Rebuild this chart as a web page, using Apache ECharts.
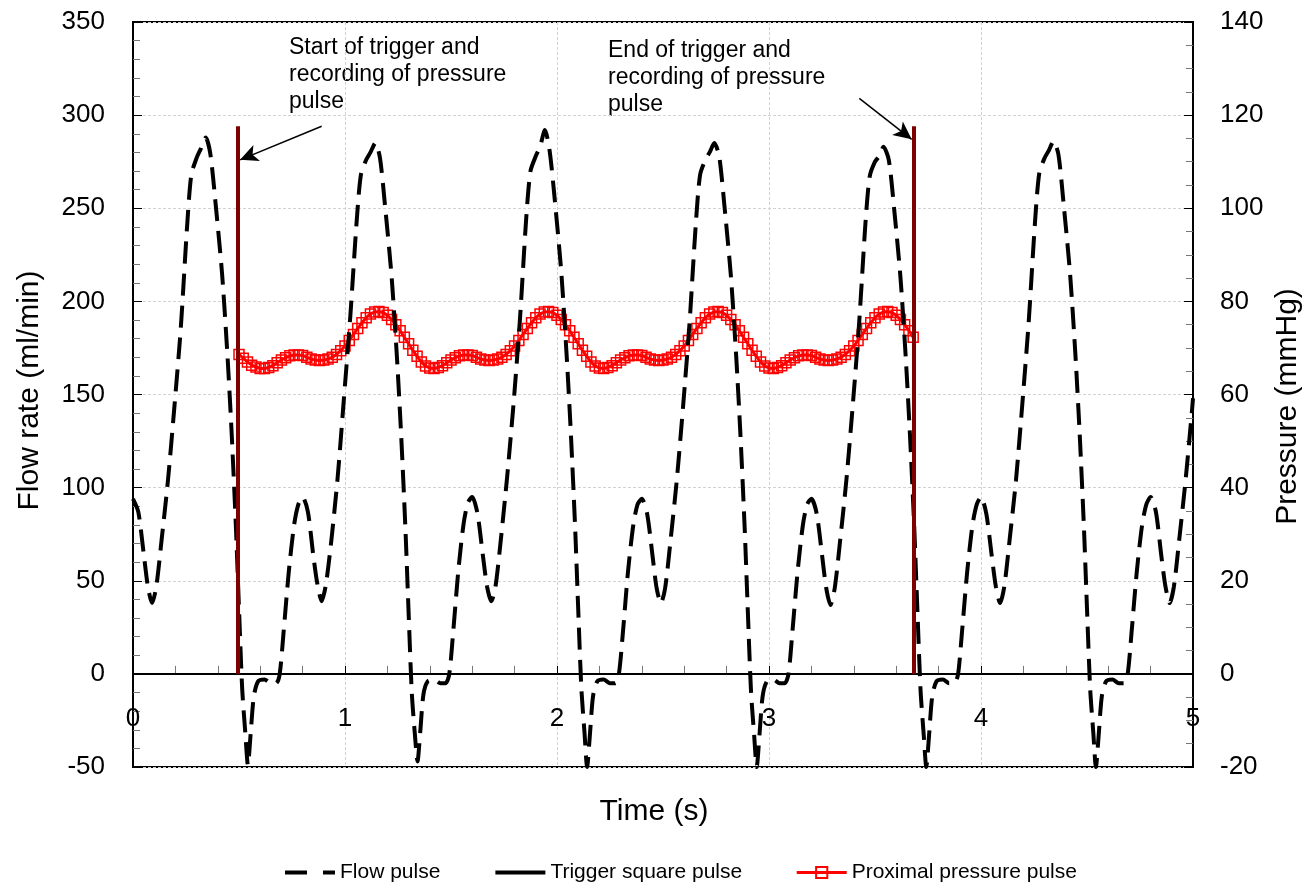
<!DOCTYPE html>
<html>
<head>
<meta charset="utf-8">
<script src="https://cdn.jsdelivr.net/npm/echarts@6.0.0/dist/echarts.min.js"></script>
<style>
  html, body { margin: 0; padding: 0; background: #fff; }
  #chart { width: 1308px; height: 886px; }
</style>
</head>
<body>
<div id="chart"></div>
<script>
// Flow pulse, ml/min: [time s, flow]
const flowPoints = [
  [0.000,94],[0.025,87],[0.050,65],[0.070,47],[0.090,38],[0.110,47],[0.135,72],[0.165,104],[0.195,143],[0.225,185],[0.255,240],[0.275,268],[0.300,277],[0.320,282],[0.343,288],[0.365,279],[0.390,252],[0.420,215],[0.445,172],[0.465,130],[0.485,80],[0.500,35],[0.515,-8],[0.530,-32],[0.542,-49],[0.555,-32],[0.570,-12],[0.590,-4],[0.620,-3],[0.650,-5],[0.675,-5],[0.692,0],[0.710,22],[0.735,55],[0.760,80],[0.780,91],
  [0.800,95],[0.825,87],[0.850,64],[0.870,48],[0.890,39],[0.910,48],[0.935,71],[0.965,105],[0.995,148],[1.025,192],[1.055,243],[1.075,268],[1.100,276],[1.120,280],[1.143,285],[1.165,277],[1.190,250],[1.220,213],[1.245,170],[1.265,128],[1.285,78],[1.300,33],[1.315,-10],[1.330,-33],[1.342,-47],[1.355,-31],[1.370,-11],[1.390,-4],[1.420,-3],[1.450,-5],[1.475,-5],[1.492,0],[1.510,22],[1.535,56],[1.560,81],[1.580,92],
  [1.600,95],[1.625,86],[1.650,64],[1.670,47],[1.690,39],[1.710,47],[1.735,72],[1.765,106],[1.795,145],[1.825,190],[1.855,245],[1.875,270],[1.900,278],[1.920,283],[1.943,292],[1.965,281],[1.990,254],[2.020,216],[2.045,172],[2.065,130],[2.085,80],[2.100,35],[2.115,-8],[2.130,-32],[2.142,-50],[2.155,-33],[2.170,-12],[2.190,-4],[2.220,-3],[2.250,-5],[2.275,-5],[2.292,0],[2.310,21],[2.335,55],[2.360,80],[2.380,91],
  [2.400,94],[2.425,86],[2.450,64],[2.470,46],[2.490,38],[2.510,46],[2.535,71],[2.565,104],[2.595,144],[2.625,188],[2.655,242],[2.675,268],[2.700,276],[2.720,280],[2.742,285],[2.765,278],[2.790,251],[2.820,214],[2.845,171],[2.865,129],[2.885,79],[2.900,34],[2.915,-9],[2.930,-33],[2.942,-50],[2.955,-33],[2.970,-12],[2.990,-4],[3.020,-3],[3.050,-5],[3.075,-5],[3.092,0],[3.110,22],[3.135,55],[3.160,80],[3.180,91],
  [3.200,94],[3.225,86],[3.250,64],[3.270,46],[3.290,37],[3.310,46],[3.335,71],[3.365,104],[3.395,144],[3.425,188],[3.455,242],[3.475,267],[3.500,275],[3.520,278],[3.540,283],[3.565,276],[3.590,250],[3.620,213],[3.645,170],[3.665,128],[3.685,79],[3.700,34],[3.715,-9],[3.730,-33],[3.742,-50],[3.755,-33],[3.770,-12],[3.790,-4],[3.820,-3],[3.850,-5],[3.875,-5],[3.892,0],[3.910,22],[3.935,55],[3.960,80],[3.980,91],
  [4.000,95],[4.025,86],[4.050,64],[4.070,47],[4.090,38],[4.110,47],[4.135,72],[4.165,104],[4.195,145],[4.225,189],[4.255,243],[4.275,269],[4.300,277],[4.320,281],[4.342,286],[4.365,279],[4.390,252],[4.420,215],[4.445,172],[4.465,130],[4.485,80],[4.500,35],[4.515,-8],[4.530,-32],[4.542,-50],[4.555,-33],[4.570,-12],[4.590,-4],[4.620,-3],[4.650,-5],[4.675,-5],[4.692,0],[4.710,22],[4.735,55],[4.760,80],[4.780,91],
  [4.800,95],[4.825,87],[4.850,64],[4.870,47],[4.890,38],[4.910,47],[4.935,72],[4.965,104],[4.995,141],[5.000,148]
];

// Proximal pressure pulse, mmHg (right axis): [time s, pressure]
const pressurePoints = [
  [0.50,68.6],[0.52,67.8],[0.54,67.0],[0.56,66.3],[0.58,65.9],[0.60,65.6],[0.62,65.6],[0.64,65.8],[0.66,66.2],[0.68,66.8],
  [0.70,67.4],[0.72,67.9],[0.74,68.3],[0.76,68.5],[0.78,68.5],[0.80,68.4],[0.82,68.0],[0.84,67.6],[0.86,67.4],[0.88,67.3],
  [0.90,67.4],[0.92,67.6],[0.94,68.0],[0.96,68.6],[0.98,69.4],[1.00,70.4],[1.02,71.6],[1.04,72.9],[1.06,74.2],[1.08,75.4],
  [1.10,76.5],[1.12,77.3],[1.14,77.7],[1.16,77.8],[1.18,77.6],[1.20,77.0],[1.22,76.1],[1.24,75.0],[1.26,73.7],[1.28,72.3],
  [1.30,70.9],[1.32,69.5],[1.34,68.2],[1.36,67.0],[1.38,66.1],[1.40,65.7],[1.42,65.6],[1.44,65.8],[1.46,66.2],[1.48,66.8],
  [1.50,67.4],[1.52,67.9],[1.54,68.3],[1.56,68.5],[1.58,68.5],[1.60,68.4],[1.62,68.0],[1.64,67.6],[1.66,67.4],[1.68,67.3],
  [1.70,67.4],[1.72,67.6],[1.74,68.0],[1.76,68.6],[1.78,69.4],[1.80,70.4],[1.82,71.6],[1.84,72.9],[1.86,74.2],[1.88,75.4],
  [1.90,76.5],[1.92,77.3],[1.94,77.7],[1.96,77.8],[1.98,77.6],[2.00,77.0],[2.02,76.1],[2.04,75.0],[2.06,73.7],[2.08,72.3],
  [2.10,70.9],[2.12,69.5],[2.14,68.2],[2.16,67.0],[2.18,66.1],[2.20,65.7],[2.22,65.6],[2.24,65.8],[2.26,66.2],[2.28,66.8],
  [2.30,67.4],[2.32,67.9],[2.34,68.3],[2.36,68.5],[2.38,68.5],[2.40,68.4],[2.42,68.0],[2.44,67.6],[2.46,67.4],[2.48,67.3],
  [2.50,67.4],[2.52,67.6],[2.54,68.0],[2.56,68.6],[2.58,69.4],[2.60,70.4],[2.62,71.6],[2.64,72.9],[2.66,74.2],[2.68,75.4],
  [2.70,76.5],[2.72,77.3],[2.74,77.7],[2.76,77.8],[2.78,77.6],[2.80,77.0],[2.82,76.1],[2.84,75.0],[2.86,73.7],[2.88,72.3],
  [2.90,70.9],[2.92,69.5],[2.94,68.2],[2.96,67.0],[2.98,66.1],[3.00,65.7],[3.02,65.6],[3.04,65.8],[3.06,66.2],[3.08,66.8],
  [3.10,67.4],[3.12,67.9],[3.14,68.3],[3.16,68.5],[3.18,68.5],[3.20,68.4],[3.22,68.0],[3.24,67.6],[3.26,67.4],[3.28,67.3],
  [3.30,67.4],[3.32,67.6],[3.34,68.0],[3.36,68.6],[3.38,69.4],[3.40,70.4],[3.42,71.6],[3.44,72.9],[3.46,74.2],[3.48,75.4],
  [3.50,76.5],[3.52,77.3],[3.54,77.7],[3.56,77.8],[3.58,77.6],[3.60,77.0],[3.62,76.1],[3.64,75.0],[3.66,73.7],[3.68,72.3]
];

// trigger square pulse sits on zero; its start/end edges are the dark red bars
const triggerPoints = [[0, 0], [5, 0]];
const triggerEdges = [0.495, 3.684];
const triggerTop = 294;

// annotation arrows [from, to] in data coordinates (time, flow)
const arrowStart = [[0.89, 294], [0.505, 276]];
const arrowEnd = [[3.426, 309], [3.673, 287]];

const seriesNames = ['Flow pulse', 'Trigger square pulse', 'Proximal pressure pulse'];
const flowTicks = { min: -50, max: 350, interval: 50 };
const pressureTicks = { min: -20, max: 140, interval: 20 };
const timeTicks = { min: 0, max: 5, interval: 1 };

const FONT = 'Liberation Sans, Arial, Helvetica, sans-serif';
const gridLine = { show: true, lineStyle: { color: '#d2d2d2', type: [3, 2], width: 1 } };

const chart = echarts.init(document.getElementById('chart'), null, { renderer: 'canvas' });

chart.setOption({
  animation: false,
  backgroundColor: '#fff',
  textStyle: { fontFamily: FONT, color: '#000' },
  grid: {
    left: 133, right: 115, top: 22, bottom: 119,
    show: true, borderColor: '#000', borderWidth: 2,
    containLabel: false, outerBoundsMode: 'none'
  },
  legend: {
    data: [
      { name: seriesNames[0], itemStyle: { opacity: 0 }, lineStyle: { color: '#000', width: 4, type: [22, 16] } },
      { name: seriesNames[1], itemStyle: { opacity: 0 }, lineStyle: { color: '#000', width: 4, type: 'solid' } },
      { name: seriesNames[2], lineStyle: { color: '#ff0000', width: 3 } }
    ],
    left: 278, top: 857,
    itemWidth: 50, itemHeight: 14, itemGap: 53,
    textStyle: { fontSize: 21, color: '#000', fontFamily: FONT }
  },
  xAxis: {
    type: 'value',
    min: timeTicks.min, max: timeTicks.max, interval: timeTicks.interval,
    name: 'Time (s)', nameLocation: 'middle', nameGap: 30, nameMoveOverlap: false,
    nameTextStyle: { fontSize: 30, color: '#000', fontFamily: FONT, padding: [0, 18, 0, 0] },
    axisLine: { show: true, onZero: true, lineStyle: { color: '#000', width: 1.5 } },
    axisTick: { show: true, inside: true, length: 8, lineStyle: { color: '#000', width: 1 } },
    minorTick: { show: true, splitNumber: 5, length: 8, lineStyle: { color: '#777', width: 1 } },
    axisLabel: { fontSize: 26, color: '#000', margin: -61, fontFamily: FONT },
    splitLine: gridLine
  },
  yAxis: [
    {
      type: 'value', position: 'left',
      min: flowTicks.min, max: flowTicks.max, interval: flowTicks.interval,
      name: 'Flow rate (ml/min)', nameLocation: 'middle', nameGap: 88, nameMoveOverlap: false,
      nameTextStyle: { fontSize: 30, color: '#000', fontFamily: FONT, padding: [0, 0, 0, 8] },
      axisLine: { show: true, onZero: false, lineStyle: { color: '#000', width: 2 } },
      axisTick: { show: true, inside: true, length: 9, lineStyle: { color: '#000' } },
      minorTick: { show: true, splitNumber: 5, length: 7, lineStyle: { color: '#777' } },
      axisLabel: { fontSize: 26, color: '#000', margin: 28, fontFamily: FONT },
      splitLine: gridLine
    },
    {
      type: 'value', position: 'right',
      min: pressureTicks.min, max: pressureTicks.max, interval: pressureTicks.interval,
      name: 'Pressure (mmHg)', nameLocation: 'middle', nameGap: 80, nameMoveOverlap: false,
      nameTextStyle: { fontSize: 30, color: '#000', fontFamily: FONT, padding: [0, 24, 0, 0] },
      axisLine: { show: true, onZero: false, lineStyle: { color: '#000', width: 2 } },
      axisTick: { show: true, inside: true, length: 9, lineStyle: { color: '#000' } },
      minorTick: { show: true, splitNumber: 4, length: 7, lineStyle: { color: '#777' } },
      axisLabel: { fontSize: 26, color: '#000', margin: 27, fontFamily: FONT },
      splitLine: { show: false }
    }
  ],
  graphic: [
    {
      type: 'text', left: 289, top: 34,
      style: { text: 'Start of trigger and\nrecording of pressure\npulse', font: '23px ' + FONT, fill: '#000', lineHeight: 27 }
    },
    {
      type: 'text', left: 608, top: 37,
      style: { text: 'End of trigger and\nrecording of pressure\npulse', font: '23px ' + FONT, fill: '#000', lineHeight: 27 }
    }
  ],
  series: [
    {
      name: seriesNames[2],
      type: 'line',
      yAxisIndex: 1,
      data: pressurePoints,
      z: 2,
      symbol: 'rect',
      symbolSize: 10,
      showSymbol: true,
      itemStyle: { color: 'rgba(255,255,255,0)', borderColor: '#ff0000', borderWidth: 1.5 },
      lineStyle: { color: '#ff0000', width: 3 }
    },
    {
      name: seriesNames[1],
      type: 'line',
      data: triggerPoints,
      z: 3,
      symbol: 'none',
      lineStyle: { color: '#000', width: 2 },
      itemStyle: { color: '#000' },
      markLine: {
        silent: true,
        symbol: ['none', 'none'],
        label: { show: false },
        lineStyle: { color: '#800000', width: 4, type: 'solid' },
        data: triggerEdges.map(t => [{ coord: [t, 0] }, { coord: [t, triggerTop] }])
      }
    },
    {
      name: seriesNames[0],
      type: 'line',
      data: flowPoints,
      z: 4,
      symbol: 'none',
      smooth: 0.25,
      lineStyle: { color: '#000', width: 4, type: [22, 10] },
      itemStyle: { color: '#000' },
      markLine: {
        silent: true,
        symbol: ['none', 'arrow'],
        symbolSize: [13, 18],
        label: { show: false },
        lineStyle: { color: '#000', width: 1.5, type: 'solid' },
        data: [
          [{ coord: arrowStart[0] }, { coord: arrowStart[1] }],
          [{ coord: arrowEnd[0] }, { coord: arrowEnd[1] }]
        ]
      }
    }
  ]
});
</script>
</body>
</html>
